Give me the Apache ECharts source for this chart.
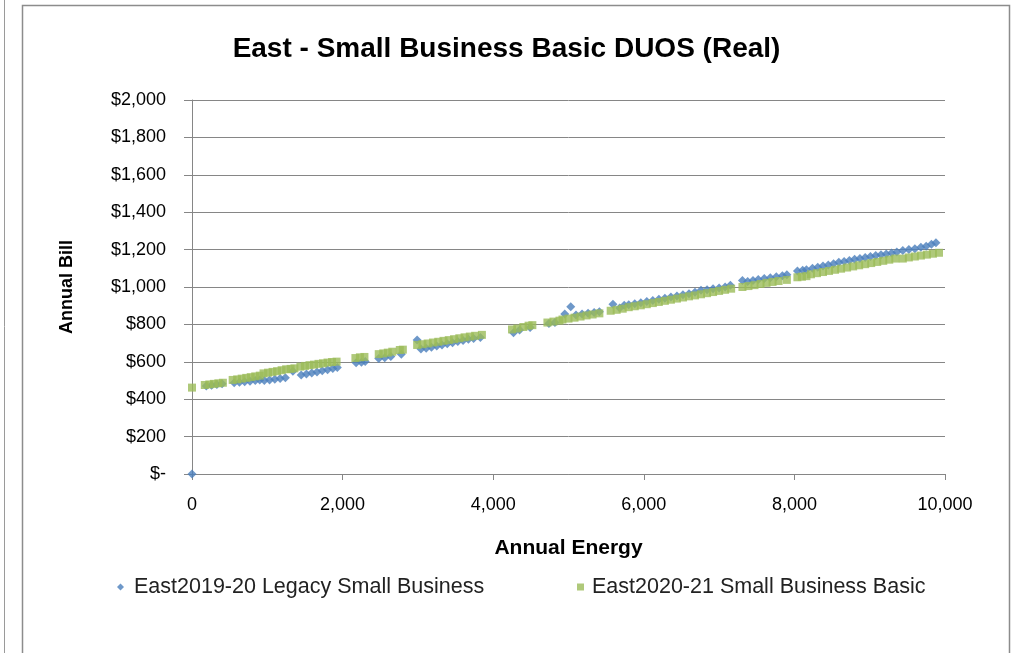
<!DOCTYPE html>
<html>
<head>
<meta charset="utf-8">
<script src="https://cdn.jsdelivr.net/npm/echarts@6/dist/echarts.min.js"></script>
<style>
html,body{margin:0;padding:0;background:#fff;}
#chart{width:1013px;height:653px;}
</style>
</head>
<body>
<div id="chart"></div>
<script>
// Data (Annual Energy kWh, Annual Bill $)
const legacyEnergy = [0,190,260,330,400,560,630,700,770,840,900,960,1030,1100,1170,1240,1340,1450,1520,1590,1660,1730,1800,1870,1930,2180,2250,2300,2480,2560,2640,2780,2990,3040,3110,3180,3250,3320,3390,3460,3530,3600,3670,3740,3830,4270,4350,4490,4740,4820,4950,5030,5100,5180,5260,5340,5410,5590,5680,5740,5800,5880,5960,6040,6120,6200,6280,6360,6440,6520,6600,6680,6760,6840,6920,7000,7080,7150,7310,7380,7450,7520,7600,7680,7760,7840,7900,8040,8110,8160,8240,8310,8380,8450,8520,8590,8660,8730,8800,8870,8940,9010,9080,9150,9220,9290,9360,9440,9520,9600,9680,9750,9820,9880];
const legacyBill   = [0,470,474,478,482,488,490,493,496,500,503,500,503,507,511,515,550,530,535,540,546,552,558,564,570,595,598,601,618,622,628,640,716,668,672,678,684,690,696,702,708,714,720,725,730,755,770,784,805,810,855,894,850,855,859,863,867,908,888,903,905,910,916,922,928,934,940,946,952,958,964,972,983,985,990,995,1000,1010,1035,1030,1035,1040,1045,1050,1055,1060,1066,1085,1090,1092,1100,1106,1112,1118,1125,1132,1137,1142,1148,1153,1158,1163,1168,1172,1177,1182,1187,1195,1200,1205,1212,1218,1228,1236];
const basicEnergy  = [0,170,230,290,350,410,540,600,660,720,780,840,900,950,1010,1070,1130,1190,1250,1310,1360,1440,1500,1560,1620,1680,1740,1800,1860,1920,2170,2230,2290,2480,2540,2600,2660,2760,2800,2990,3060,3130,3200,3270,3340,3410,3480,3550,3620,3690,3760,3850,4250,4320,4400,4470,4520,4720,4800,4880,4920,5000,5080,5160,5240,5320,5410,5560,5640,5720,5800,5880,5960,6040,6120,6200,6280,6360,6440,6520,6600,6680,6760,6840,6920,7000,7080,7160,7310,7390,7470,7550,7630,7710,7790,7900,8040,8100,8160,8220,8300,8380,8460,8540,8620,8700,8780,8860,8940,9020,9100,9180,9260,9340,9440,9520,9600,9680,9760,9840,9920];
const basicBill    = [462,476,479,482,485,488,503,506,510,514,518,522,526,538,542,546,550,555,560,562,565,574,578,582,585,589,592,596,599,601,620,624,626,641,645,649,654,663,665,690,694,698,703,707,712,716,721,726,731,735,739,744,773,778,786,793,796,810,815,820,826,831,836,842,848,853,859,873,878,884,892,897,902,908,914,920,926,932,938,944,950,955,961,967,973,979,985,991,1000,1005,1010,1016,1022,1027,1032,1038,1052,1055,1058,1068,1074,1080,1086,1092,1098,1104,1110,1116,1122,1128,1134,1140,1146,1152,1152,1158,1163,1168,1173,1178,1183];
const seriesNames = ['East2019-20 Legacy Small Business','East2020-21 Small Business Basic'];
const titleText = 'East - Small Business Basic DUOS (Real)';
const xName = 'Annual Energy';
const yName = 'Annual Bill';

const pair = (xs, ys) => xs.map((x, i) => [x, ys[i]]);
const FONT = 'Liberation Sans';
const chart = echarts.init(document.getElementById('chart'), null, {renderer: 'canvas'});
chart.setOption({
  animation: false,
  backgroundColor: '#fff',
  title: {
    text: titleText, left: 'center', top: 30,
    textStyle: {fontFamily: FONT, fontSize: 28, fontWeight: 'bold', color: '#000'}
  },
  graphic: [
    {type: 'line', shape: {x1: 4.5, y1: 0, x2: 4.5, y2: 653}, style: {stroke: '#9a9a9a', lineWidth: 1}},
    {type: 'rect', shape: {x: 22.5, y: 5.5, width: 987, height: 660}, style: {fill: null, stroke: '#8c8c8c', lineWidth: 1.5}}
  ],
  legend: [
    {data: [seriesNames[0]], left: 112, top: 571, itemWidth: 7, itemHeight: 7, itemGap: 10,
     textStyle: {fontFamily: FONT, fontSize: 21.5, color: '#222', padding: [0, 0, 0, 5]}},
    {data: [seriesNames[1]], left: 572, top: 571, itemWidth: 7, itemHeight: 7, itemGap: 10,
     textStyle: {fontFamily: FONT, fontSize: 21.5, color: '#222', padding: [0, 0, 0, 3]}}
  ],
  grid: {left: 192, right: 68, top: 100, bottom: 179, containLabel: false},
  xAxis: {
    type: 'value', min: 0, max: 10000, interval: 2000,
    name: xName, nameLocation: 'middle', nameGap: 64,
    nameTextStyle: {fontFamily: FONT, fontSize: 21, fontWeight: 'bold', color: '#000'},
    axisLine: {show: true, onZero: false, lineStyle: {color: '#868686'}},
    axisTick: {show: true, length: 6, lineStyle: {color: '#868686'}},
    splitLine: {show: false},
    axisLabel: {fontFamily: FONT, fontSize: 18, color: '#000', margin: 22,
      formatter: v => v.toLocaleString('en-US')}
  },
  yAxis: {
    type: 'value', min: 0, max: 2000, interval: 200,
    name: yName, nameLocation: 'middle', nameGap: 116, nameRotate: 90,
    nameTextStyle: {fontFamily: FONT, fontSize: 18, fontWeight: 'bold', color: '#000'},
    axisLine: {show: true, lineStyle: {color: '#868686'}},
    axisTick: {show: true, length: 8, lineStyle: {color: '#868686'}},
    splitLine: {show: true, lineStyle: {color: '#868686', width: 1}},
    axisLabel: {fontFamily: FONT, fontSize: 18, color: '#000', margin: 26,
      formatter: v => v === 0 ? '$-' : '$' + v.toLocaleString('en-US')}
  },
  series: [
    {name: seriesNames[0], type: 'scatter', symbol: 'diamond', symbolSize: 9,
     itemStyle: {color: '#4a7ebb'}, data: pair(legacyEnergy, legacyBill), z: 2},
    {name: seriesNames[1], type: 'scatter', symbol: 'rect', symbolSize: 8,
     itemStyle: {color: '#9bbb59'}, data: pair(basicEnergy, basicBill), z: 3}
  ]
});
</script>
</body>
</html>
